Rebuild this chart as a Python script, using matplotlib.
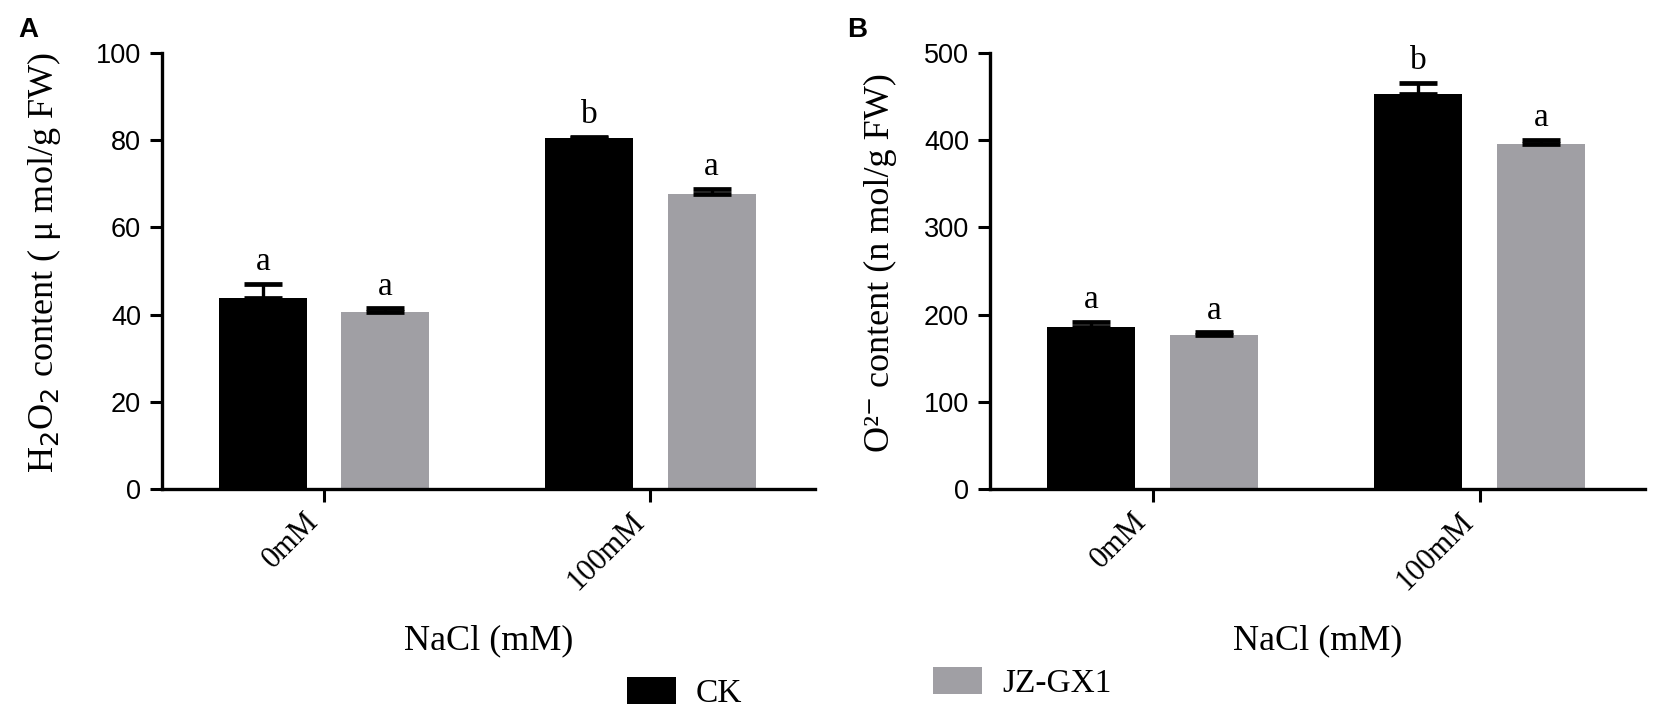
import matplotlib
matplotlib.use("Agg")
import matplotlib.pyplot as plt
from matplotlib.patches import Patch
from matplotlib import font_manager as fm
import numpy as np

# ---- data ----
groups = ["0mM", "100mM"]
series = ["CK", "JZ-GX1"]
h2o2_mean = {"CK": [43.9, 80.5], "JZ-GX1": [40.7, 67.7]}
h2o2_err = {"CK": [3.2, 0.3], "JZ-GX1": [0.7, 1.2]}
h2o2_letters = {"CK": ["a", "b"], "JZ-GX1": ["a", "a"]}
o2_mean = {"CK": [186, 453], "JZ-GX1": [177, 396]}
o2_err = {"CK": [6, 13], "JZ-GX1": [2.5, 4]}
o2_letters = {"CK": ["a", "b"], "JZ-GX1": ["a", "a"]}
h2o2_yticks = [0, 20, 40, 60, 80, 100]
o2_yticks = [0, 100, 200, 300, 400, 500]

colors = {"CK": "#000000", "JZ-GX1": "#a09fa4"}

avail = {f.name for f in fm.fontManager.ttflist}
narrow = "Liberation Sans Narrow" if "Liberation Sans Narrow" in avail else "Liberation Sans"
serif = ["Liberation Serif", "DejaVu Serif"]

W, H = 1654, 717
fig = plt.figure(figsize=(W / 100, H / 100), dpi=100)

def px_axes(x0, x1, y_top, y_bot):
    return fig.add_axes([x0 / W, 1 - y_bot / H, (x1 - x0) / W, (y_bot - y_top) / H])

ax1 = px_axes(162, 815, 53, 489)
ax2 = px_axes(990, 1645, 53, 489)

bw = 0.27
off = 0.188
x = np.arange(len(groups))

def draw(ax, means, errs, letters, yticks, ylabel, ylab_x):
    for i, s in enumerate(series):
        pos = x + (-off if i == 0 else off)
        ax.bar(pos, means[s], width=bw, color=colors[s], edgecolor="none", zorder=2)
        ax.errorbar(pos, means[s], yerr=[np.zeros(len(errs[s])), errs[s]],
                    fmt="none", ecolor="black", elinewidth=2.4, capsize=14,
                    capthick=3.4, zorder=3)
        for p, m, e, l in zip(pos, means[s], errs[s], letters[s]):
            ax.annotate(l, (p, m + e), xytext=(0, 5), textcoords="offset points",
                        ha="center", va="bottom", fontsize=24, family=serif)
    ax.set_xlim(-0.497, 1.505)
    ax.set_ylim(yticks[0], yticks[-1])
    ax.set_yticks(yticks)
    ax.set_yticklabels([str(t) for t in yticks], family=narrow, fontsize=19.5)
    ax.set_xticks(x)
    ax.set_xticklabels(groups, rotation=45, ha="right", family=serif, fontsize=22)
    for sp in ["top", "right"]:
        ax.spines[sp].set_visible(False)
    for sp in ["left", "bottom"]:
        ax.spines[sp].set_linewidth(2.4)
    ax.tick_params(axis="both", direction="out", length=9, width=2.2, pad=6)
    ax.tick_params(axis="x", pad=4)
    ax.set_ylabel(ylabel, family=serif, fontsize=26)
    ax.yaxis.set_label_coords(ylab_x, 0.52)
    ax.set_xlabel("NaCl (mM)", family=serif, fontsize=26)
    ax.xaxis.set_label_coords(0.5, -0.31)

draw(ax1, h2o2_mean, h2o2_err, h2o2_letters, h2o2_yticks,
     r"H$_2$O$_2$ content ( μ mol/g FW)", -0.152)
draw(ax2, o2_mean, o2_err, o2_letters, o2_yticks,
     "O\u00b2\u207b content (n mol/g FW)", -0.142)

fig.text(18 / W, 1 - 17 / H, "A", fontsize=20, fontweight="bold", family="Liberation Sans",
         ha="left", va="top")
fig.text(847 / W, 1 - 17 / H, "B", fontsize=20, fontweight="bold", family="Liberation Sans",
         ha="left", va="top")

fs = 24
em = fs * 100 / 72
leg_kw = dict(frameon=False, borderpad=0, borderaxespad=0, handlelength=49 / em,
              handleheight=28 / em, handletextpad=0.6,
              prop={"family": serif, "size": fs}, loc="center left")
l1 = fig.legend(handles=[Patch(facecolor=colors["CK"], edgecolor="none", label="CK")],
                bbox_to_anchor=(627 / W, 1 - 693 / H), **leg_kw)
l2 = fig.legend(handles=[Patch(facecolor=colors["JZ-GX1"], edgecolor="none", label="JZ-GX1")],
                bbox_to_anchor=(933 / W, 1 - 683 / H), **leg_kw)

fig.savefig("out.png", dpi=100)
